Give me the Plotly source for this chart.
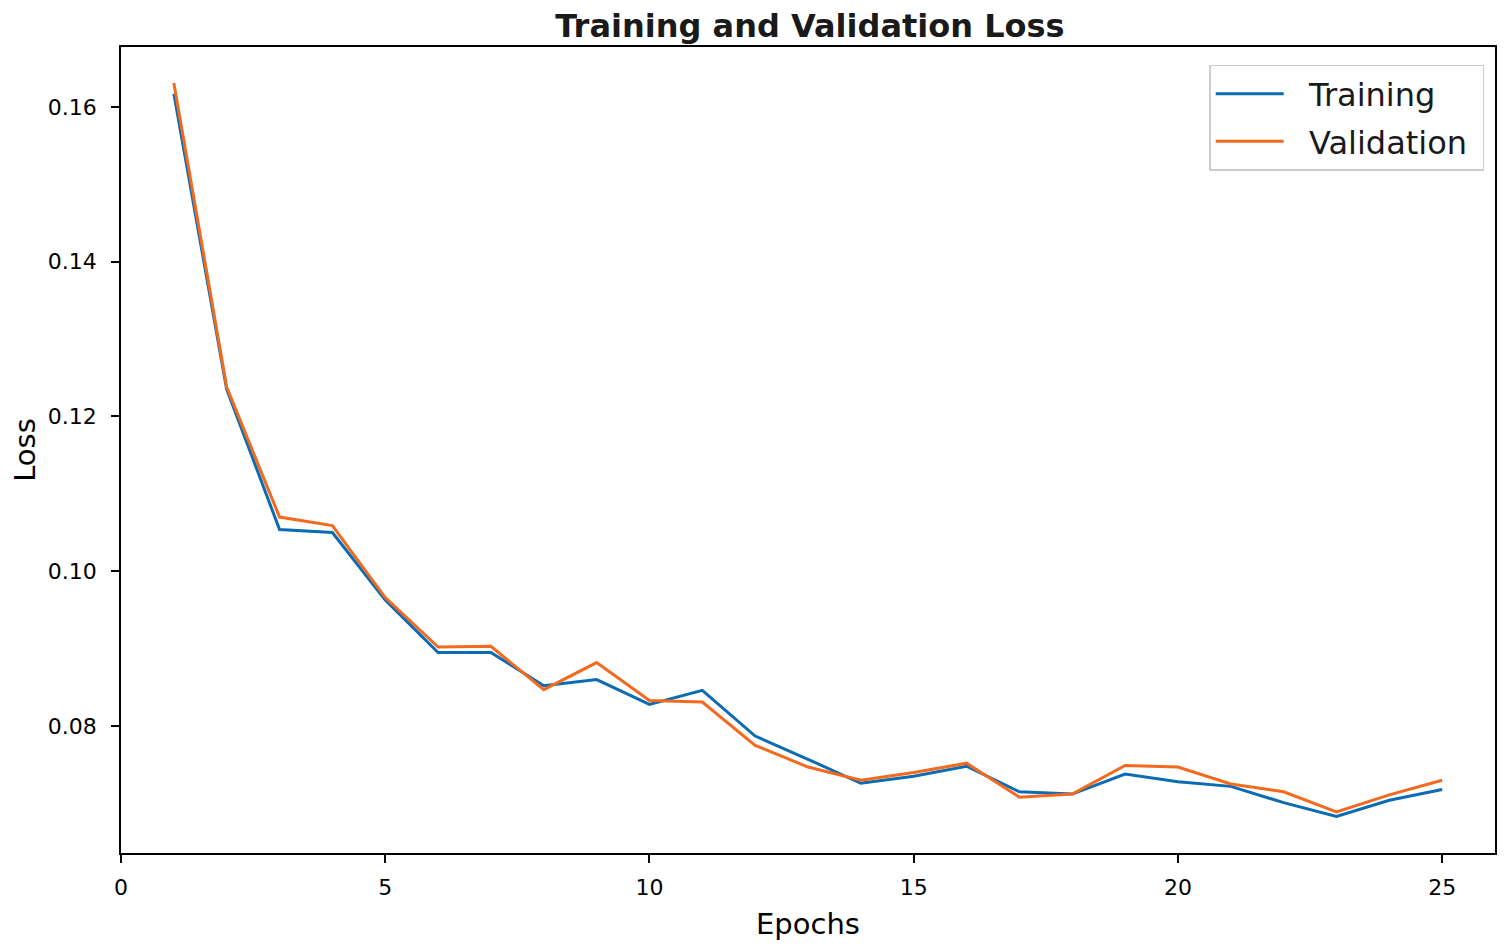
import plotly.graph_objects as go

epochs = list(range(1, 26))
training_loss = [0.1617, 0.1235, 0.1054, 0.1050, 0.0963, 0.0895, 0.0895, 0.0852, 0.0860, 0.0828,
                 0.0846, 0.0787, 0.0757, 0.0726, 0.0735, 0.0748, 0.0715, 0.0712, 0.0738, 0.0728,
                 0.0722, 0.0701, 0.0683, 0.0704, 0.0718]
validation_loss = [0.1631, 0.1238, 0.1070, 0.1059, 0.0966, 0.0902, 0.0903, 0.0847, 0.0882, 0.0833,
                   0.0831, 0.0775, 0.0747, 0.0730, 0.0740, 0.0752, 0.0708, 0.0712, 0.0749, 0.0747,
                   0.0725, 0.0715, 0.0689, 0.0711, 0.0730]
x_ticks = [0, 5, 10, 15, 20, 25]
y_ticks = [0.08, 0.10, 0.12, 0.14, 0.16]
series_names = ["Training", "Validation"]

font = "DejaVu Sans"
pad = "\u00a0\u00a0"

fig = go.Figure()
fig.add_trace(go.Scatter(x=epochs, y=training_loss, mode="lines", name=pad + series_names[0],
                         legendgroup="t", line=dict(color="#0b6bb3", width=3)))
fig.add_trace(go.Scatter(x=epochs, y=validation_loss, mode="lines", name=pad + series_names[1] + "\u00a0",
                         legendgroup="v", line=dict(color="#f36a1f", width=3)))

axis_common = dict(showline=True, linecolor="black", linewidth=1.5, mirror=True,
                   ticks="outside", ticklen=8, tickwidth=1.5, tickcolor="black",
                   showgrid=False, zeroline=False,
                   tickfont=dict(family=font, size=22, color="black"))

fig.update_layout(
    width=1489, height=933,
    margin=dict(l=113, r=0, t=39, b=88),
    paper_bgcolor="white", plot_bgcolor="white",
    title=dict(text="<b>Training and Validation Loss</b>", x=0.5386, xanchor="center",
               y=0.9807, yanchor="middle",
               font=dict(family=font, size=32, color="#1a1a1a")),
    xaxis=dict(range=[0, 26.0], tickvals=x_ticks, ticktext=[str(v) for v in x_ticks],
               ticklabelstandoff=6, automargin=False,
               title=dict(text="Epochs", font=dict(family=font, size=29, color="black")),
               **axis_common),
    yaxis=dict(range=[0.06359, 0.16775], tickvals=y_ticks, ticktext=[f"{v:.2f}" for v in y_ticks],
               ticklabelstandoff=10, automargin=True,
               title=dict(text="Loss", font=dict(family=font, size=29, color="black"), standoff=18),
               **axis_common),
    legend=dict(x=0.792, xanchor="left", y=0.9777, yanchor="top",
                bgcolor="rgba(255,255,255,0.8)", bordercolor="#cccccc", borderwidth=1.5,
                font=dict(family=font, size=32, color="#1a1a1a"),
                itemwidth=68, tracegroupgap=3),
    showlegend=True,
)

fig.write_html("out.html")
